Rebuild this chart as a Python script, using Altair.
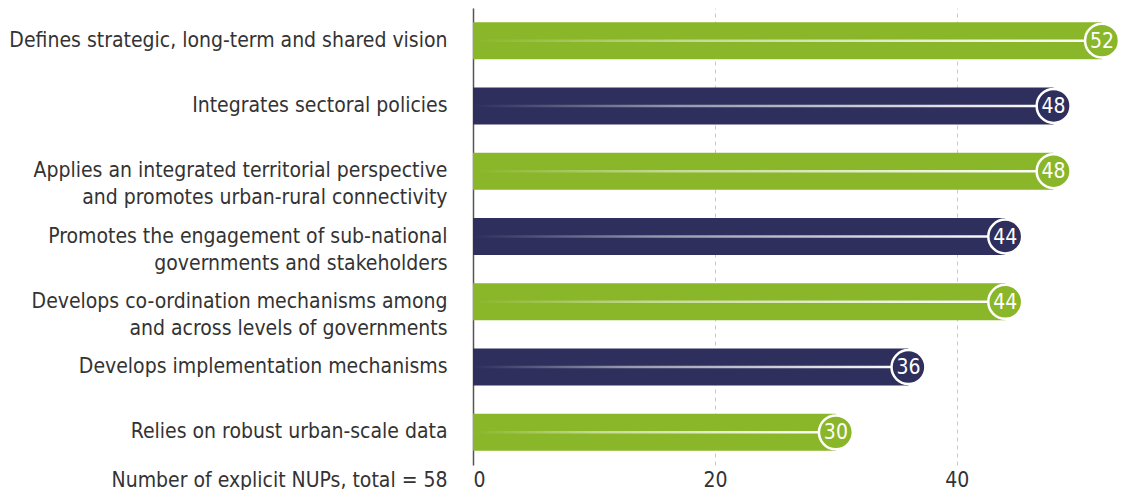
import altair as alt
import pandas as pd

labels = [
    "Defines strategic, long-term and shared vision",
    "Integrates sectoral policies",
    "Applies an integrated territorial perspective|and promotes urban-rural connectivity",
    "Promotes the engagement of sub-national|governments and stakeholders",
    "Develops co-ordination mechanisms among|and across levels of governments",
    "Develops implementation mechanisms",
    "Relies on robust urban-scale data",
]
values = [52, 48, 48, 44, 44, 36, 30]
groups = ["green", "navy", "green", "navy", "green", "navy", "green"]
x_ticks = [0, 20, 40]
x_title = "Number of explicit NUPs, total = 58"

df = pd.DataFrame({"label": labels, "value": values, "group": groups})

FONT = "DejaVu Sans Condensed"
FS = 21

y_enc = alt.Y(
    "label:N",
    sort=labels,
    title=None,
    scale=alt.Scale(paddingInner=0, paddingOuter=0),
    axis=alt.Axis(
        labelExpr="split(datum.label, '|')",
        labelFont=FONT,
        labelFontSize=FS,
        labelLineHeight=27,
        labelColor="#333333",
        labelPadding=26,
        labelLimit=0,
        ticks=False,
        grid=False,
        domainColor="#555555",
        domainWidth=1.5,
    ),
)

x_scale = alt.Scale(domain=[0, 52], nice=False)
x_enc = alt.X(
    "value:Q",
    scale=x_scale,
    title=x_title,
    axis=alt.Axis(
        values=x_ticks,
        domain=False,
        ticks=False,
        tickSize=0,
        grid=True,
        gridDash=[4, 4],
        gridColor="#c8c8c8",
        gridWidth=1,
        labelFont=FONT,
        labelFontSize=FS,
        labelColor="#333333",
        labelPadding=4,
        titleFont=FONT,
        titleFontSize=FS,
        titleFontWeight="normal",
        titleColor="#333333",
        titleAlign="right",
        titleBaseline="top",
        titleX=-26,
        titleY=4,
    ),
)

color_scale = alt.Scale(domain=["green", "navy"], range=["#8ab62a", "#2e2f5c"])

base = alt.Chart(df)

bars = base.mark_bar(height=37).encode(
    x=x_enc,
    y=y_enc,
    color=alt.Color("group:N", scale=color_scale, legend=None),
)

gradient = {
    "gradient": "linear",
    "x1": 0, "y1": 0, "x2": 1, "y2": 0,
    "stops": [
        {"offset": 0.0, "color": "rgba(255,255,255,0)"},
        {"offset": 0.35, "color": "rgba(255,255,255,0.5)"},
        {"offset": 1.0, "color": "rgba(255,255,255,1)"},
    ],
}

lines = base.mark_bar(height=2.5, fill=gradient).encode(
    x=alt.X("value:Q", scale=x_scale),
    y=alt.Y("label:N", sort=labels),
)

circles = base.mark_point(
    shape="circle", filled=True, size=1150, stroke="white", strokeWidth=2.5, opacity=1
).encode(
    x=alt.X("value:Q", scale=x_scale),
    y=alt.Y("label:N", sort=labels),
    fill=alt.Color("group:N", scale=color_scale, legend=None),
)

texts = base.mark_text(
    font=FONT, fontSize=FS, color="white", align="center", baseline="middle", dy=1
).encode(
    x=alt.X("value:Q", scale=x_scale),
    y=alt.Y("label:N", sort=labels),
    text=alt.Text("value:Q"),
)

chart = (
    alt.layer(bars, lines, circles, texts)
    .properties(
        width=1116,
        height=482,
        autosize=alt.AutoSizeParams(type="fit", contains="padding"),
        padding={"left": 0, "top": 0, "right": 0, "bottom": 0},
    )
    .configure_view(stroke=None)
)

chart.save("out.html", embed_options={"renderer": "svg", "actions": False})
